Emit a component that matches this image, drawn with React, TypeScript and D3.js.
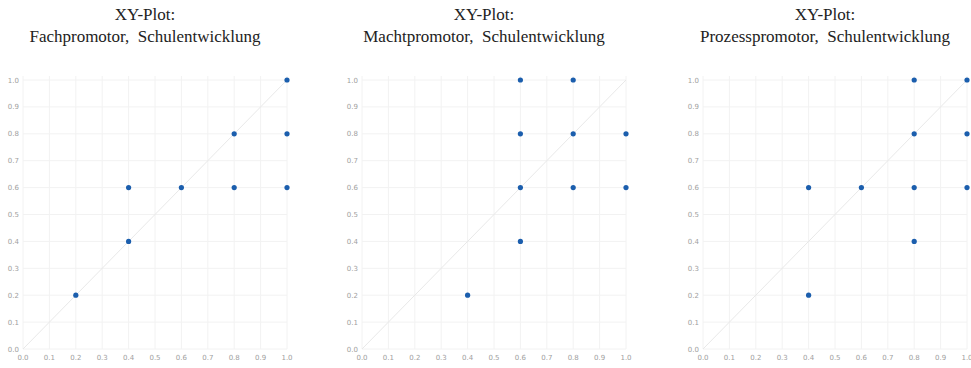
import React from "react";
import * as d3 from "d3";

// tick values shared by both axes
const ticks = [0, 0.1, 0.2, 0.3, 0.4, 0.5, 0.6, 0.7, 0.8, 0.9, 1.0];

const titles = [
  "Fachpromotor,  Schulentwicklung",
  "Machtpromotor,  Schulentwicklung",
  "Prozesspromotor,  Schulentwicklung",
];

const fachX = [0.2, 0.4, 0.4, 0.6, 0.8, 0.8, 1.0, 1.0, 1.0];
const fachY = [0.2, 0.4, 0.6, 0.6, 0.6, 0.8, 0.6, 0.8, 1.0];

const machtX = [0.4, 0.6, 0.6, 0.6, 0.6, 0.8, 0.8, 0.8, 1.0, 1.0];
const machtY = [0.2, 0.4, 0.6, 0.8, 1.0, 0.6, 0.8, 1.0, 0.6, 0.8];

const prozessX = [0.4, 0.4, 0.6, 0.8, 0.8, 0.8, 0.8, 1.0, 1.0, 1.0];
const prozessY = [0.2, 0.6, 0.6, 0.4, 0.6, 0.8, 1.0, 0.6, 0.8, 1.0];

const seriesX = [fachX, machtX, prozessX];
const seriesY = [fachY, machtY, prozessY];

const W = 971;
const H = 368;
const panelLefts = [23, 362, 703];
const plotW = 264;
const top = 80;
const bottom = 349;

const Panel = ({ idx }: { idx: number }) => {
  const left = panelLefts[idx];
  const x = d3.scaleLinear().domain([0, 1]).range([left, left + plotW]);
  const y = d3.scaleLinear().domain([0, 1]).range([bottom, top]);
  const cx = left + plotW / 2 - 10;
  const xs = seriesX[idx];
  const ys = seriesY[idx];
  const fmt = d3.format(".1f");

  return (
    <g>
      <text
        x={cx}
        y={20}
        textAnchor="middle"
        fontFamily="'Liberation Serif', 'Times New Roman', serif"
        fontSize={17}
        fill="#222"
      >
        XY-Plot:
      </text>
      <text
        x={cx}
        y={42}
        textAnchor="middle"
        fontFamily="'Liberation Serif', 'Times New Roman', serif"
        fontSize={17}
        fill="#222"
        style={{ whiteSpace: "pre" }}
      >
        {titles[idx]}
      </text>
      {ticks.map((t) => (
        <g key={"g" + t}>
          <line x1={x(t)} x2={x(t)} y1={y(1) - 4} y2={y(0)} stroke="#f2f2f2" strokeWidth={1} />
          <line x1={x(0)} x2={x(1)} y1={y(t)} y2={y(t)} stroke="#f2f2f2" strokeWidth={1} />
        </g>
      ))}
      <line x1={x(0)} y1={y(0)} x2={x(1)} y2={y(1)} stroke="#e8e8e8" strokeWidth={1} />
      {ticks.map((t) => (
        <text
          key={"y" + t}
          x={x(0) - 4}
          y={y(t) + 2.5}
          textAnchor="end"
          fontFamily="'DejaVu Sans', sans-serif"
          fontSize={7}
          fill="#a0a0a0"
        >
          {fmt(t)}
        </text>
      ))}
      {ticks.map((t) => (
        <text
          key={"x" + t}
          x={x(t)}
          y={y(0) + 11}
          textAnchor="middle"
          fontFamily="'DejaVu Sans', sans-serif"
          fontSize={7}
          fill="#a0a0a0"
        >
          {fmt(t)}
        </text>
      ))}
      {xs.map((v, i) => (
        <circle key={"p" + i} cx={x(v)} cy={y(ys[i])} r={2.6} fill="#1b5ead" />
      ))}
    </g>
  );
};

export default function App() {
  return (
    <svg
      width={W}
      height={H}
      style={{ position: "absolute", left: 0, top: 0, background: "#fff" }}
    >
      {[0, 1, 2].map((i) => (
        <Panel key={i} idx={i} />
      ))}
    </svg>
  );
}
